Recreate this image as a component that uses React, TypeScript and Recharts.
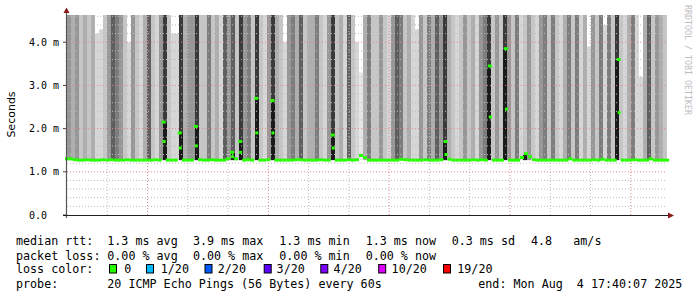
import React from 'react';
import { ComposedChart, Bar, Line, XAxis, YAxis, ReferenceLine, Cell } from 'recharts';

// ---- data (one column = 2.4 minutes, 11:40 -> 17:40) ----
const shade = [
  5,4,5,3,4,3,4,2,2,3,5,7,6,5,3,2,5,3,2,4,7,3,2,5,8,3,2,2,8,4,
  5,5,8,3,3,6,3,4,2,7,5,7,3,8,5,6,3,8,3,2,5,8,4,3,2,5,6,4,7,3,4,
  4,6,3,2,5,8,3,4,2,7,3,2,1,4,6,3,3,5,3,2,5,7,6,3,4,2,2,5,3,6,
  4,7,5,8,4,3,2,3,5,3,4,2,5,6,8,3,5,3,8,5,3,6,2,3,5,3,2,5,6,3,6,
  3,2,4,6,3,6,2,4,2,5,3,6,2,6,3,8,3,2,4,6,2,2,4,7,3,5,4,3,
];

const median = [
  1.3,1.3,1.28,1.27,1.27,1.28,1.27,1.27,1.27,1.28,1.27,1.28,1.27,1.27,1.27,1.28,1.27,1.27,1.27,1.27,1.27,1.27,1.28,1.27,2.15,1.27,1.27,1.27,1.9,1.27,
  1.27,1.27,2.05,1.28,1.27,1.27,1.28,1.27,1.27,1.27,1.3,1.45,1.3,1.7,1.27,1.28,1.27,2.7,1.27,1.27,1.28,2.65,1.27,1.27,1.27,1.27,1.27,1.28,1.28,1.27,1.27,
  1.27,1.27,1.28,1.27,1.27,1.85,1.27,1.27,1.27,1.28,1.27,1.28,1.38,1.33,1.27,1.27,1.27,1.27,1.27,1.27,1.27,1.27,1.29,1.28,1.27,1.27,1.27,1.27,1.28,1.27,
  1.27,1.27,1.28,1.7,1.29,1.27,1.27,1.27,1.27,1.27,1.28,1.27,1.28,1.27,3.45,1.27,1.27,1.27,3.85,1.27,1.27,1.27,1.33,1.42,1.35,1.28,1.27,1.27,1.27,1.27,1.27,
  1.27,1.27,1.27,1.3,1.27,1.27,1.27,1.27,1.27,1.28,1.27,1.29,1.27,1.27,1.27,3.6,1.27,1.27,1.27,1.28,1.27,1.27,1.27,1.3,1.27,1.27,1.27,1.27,
];

// second median dot inside spike columns
const secondDotCols = [24, 28, 32, 41, 43, 47, 51, 66, 94, 105, 109, 137];
const secondDotVals = [1.7, 1.55, 1.6, 1.35, 1.45, 1.9, 1.9, 1.55, 1.4, 2.27, 2.45, 2.37];

// smoke reaches past the top of the graph except in these columns
const smokeClipped = 4.63;
const smokeTopCols = [7, 8, 15, 26, 27, 54, 72, 73, 87, 130, 134, 143];
const smokeTopVals = [4.2, 4.3, 4.0, 4.2, 4.2, 4.0, 4.0, 3.3, 4.3, 3.9, 4.4, 3.2];

const timeTickMinutes = [20, 80, 140, 200, 260, 320];
const timeTickLabels = ['12:00', '13:00', '14:00', '15:00', '16:00', '17:00'];
const yTickValues = [0, 1, 2, 3, 4];
const yTickLabels = ['0.0', '1.0 m', '2.0 m', '3.0 m', '4.0 m'];

const vMinor = [10,30,40,60,70,90,100,120,130,150,160,180,190,210,220,240,250,270,280,300,310,330,340,360];
const vMajor = [20,50,80,110,140,170,200,230,260,290,320,350];
const hMinor = [0.2,0.4,0.6,0.8,1.2,1.4,1.6,1.8,2.2,2.4,2.6,2.8,3.2,3.4,3.6,3.8,4.2,4.4,4.6];
const hMajor = [1, 2, 3, 4];

const lossLegend = ['0', '1/20', '2/20', '3/20', '4/20', '10/20', '19/20'];
const lossColors = ['#26ff00', '#00b8ff', '#0059ff', '#5e00ff', '#7e00ff', '#dd00ff', '#ff0000'];

const shadeColors = ['#ffffff','#e6e6e6','#d6d6d6','#c6c6c6','#aeaeae','#979797','#7d7d7d','#5f5f5f','#3a3a3a','#1e1e1e'];

const rows = shade.map((s, i) => {
  const base = Math.min(median[i], 1.27);
  const core = median[i] > 1.4 ? median[i] - base : 0;
  const k = smokeTopCols.indexOf(i);
  const top = k >= 0 ? smokeTopVals[k] : smokeClipped;
  const j = secondDotCols.indexOf(i);
  return {
    col: i,
    base,
    core,
    smoke: Math.max(0, top - base - core),
    shade: s,
    median: median[i],
    second: j >= 0 ? secondDotVals[j] : null,
  };
});

const mono = "'DejaVu Sans Mono', monospace";

const MedianDot = (props: any) => {
  const { cx, cy } = props;
  if (!Number.isFinite(cx) || !Number.isFinite(cy)) return <g />;
  return <rect x={cx - 2} y={cy - 1.5} width={4} height={3} fill="#26ff00" />;
};
const SecondDot = (props: any) => {
  const { cx, cy, payload } = props;
  if (!payload || payload.second == null || !Number.isFinite(cy)) return <g />;
  return <rect x={cx - 1} y={cy - 1.5} width={3} height={3} fill="#26ff00" />;
};

const YTick = (props: any) => {
  const { y, payload } = props;
  const idx = yTickValues.indexOf(payload.value);
  return (
    <text x={29} y={y} dominantBaseline="central" fontFamily={mono} fontSize={10} fill="#000">
      {idx >= 0 ? yTickLabels[idx] : ''}
    </text>
  );
};
const XTick = (props: any) => {
  const { x, y, payload } = props;
  const idx = timeTickMinutes.indexOf(payload.value);
  return (
    <text x={x} y={y} textAnchor="middle" dominantBaseline="central" fontFamily={mono} fontSize={10} fill="#000">
      {idx >= 0 ? timeTickLabels[idx] : ''}
    </text>
  );
};

const gridMinor = '#bdbdbd';
const gridMajor = '#e08a8a';

const chartProps = {
  width: 697,
  height: 240,
  data: rows,
  margin: { top: 15, right: 30, bottom: 0, left: 0 },
  barCategoryGap: 0,
  barGap: 0,
};

export default function App() {
  const rttItems = ['1.3 ms avg', '3.9 ms max', '1.3 ms min', '1.3 ms now', '0.3 ms sd'];
  const lossItems = ['0.00 % avg', '0.00 % max', '0.00 % min', '0.00 % now'];
  const itemX = [107.3, 192.9, 279.3, 365.7, 451.7];
  const boxX = [109, 146, 204.5, 263.7, 320.3, 378.2, 443];
  const boxLabelX = [124.3, 160.8, 217.8, 276.6, 333.6, 391.6, 457.3];
  return (
    <div style={{ position: 'absolute', left: 0, top: 0, width: 697, height: 297, background: '#fff' }}>
      {/* smoke layer */}
      <div style={{ position: 'absolute', left: 0, top: 0 }}>
        <ComposedChart {...chartProps}>
          <XAxis xAxisId="cat" dataKey="col" type="category" hide />
          <XAxis
            xAxisId="time"
            type="number"
            domain={[0, 360]}
            allowDataOverflow
            ticks={timeTickMinutes}
            axisLine={false}
            tickLine={false}
            tickSize={6}
            tickMargin={3}
            height={25}
            tick={<XTick />}
          />
          <YAxis
            type="number"
            domain={[0, 4.63]}
            allowDataOverflow
            ticks={yTickValues}
            width={67}
            axisLine={false}
            tickSize={4}
            tickLine={{ stroke: '#404040' }}
            tick={<YTick />}
          />
          <Bar xAxisId="cat" dataKey="base" stackId="s" fill="transparent" isAnimationActive={false} />
          <Bar xAxisId="cat" dataKey="core" stackId="s" fill="#1a1a1a" isAnimationActive={false} />
          <Bar xAxisId="cat" dataKey="smoke" stackId="s" isAnimationActive={false}>
            {rows.map((r, i) => (
              <Cell key={i} fill={shadeColors[r.shade]} />
            ))}
          </Bar>
        </ComposedChart>
      </div>
      {/* grid + median layer, same scales, drawn on top of the smoke */}
      <div style={{ position: 'absolute', left: 0, top: 0 }}>
        <ComposedChart {...chartProps}>
          <XAxis xAxisId="cat" dataKey="col" type="category" hide />
          <XAxis
            xAxisId="time"
            type="number"
            domain={[0, 360]}
            allowDataOverflow
            ticks={timeTickMinutes}
            axisLine={false}
            tickLine={false}
            tick={false}
            height={25}
          />
          <YAxis
            type="number"
            domain={[0, 4.63]}
            allowDataOverflow
            ticks={yTickValues}
            width={67}
            axisLine={false}
            tickLine={false}
            tick={false}
          />
          {hMinor.map((v) => (
            <ReferenceLine key={'hm' + v} xAxisId="time" y={v} stroke={gridMinor} strokeDasharray="1 2" />
          ))}
          {vMinor.map((v) => (
            <ReferenceLine key={'vm' + v} xAxisId="time" x={v} stroke={gridMinor} strokeDasharray="1 2" />
          ))}
          {hMajor.map((v) => (
            <ReferenceLine key={'hM' + v} xAxisId="time" y={v} stroke={gridMajor} strokeDasharray="1 2" />
          ))}
          {vMajor.map((v) => (
            <ReferenceLine key={'vM' + v} xAxisId="time" x={v} stroke={gridMajor} strokeDasharray="1 2" />
          ))}
          <Line
            xAxisId="cat"
            dataKey="median"
            stroke="none"
            isAnimationActive={false}
            dot={<MedianDot />}
            activeDot={false}
          />
          <Line
            xAxisId="cat"
            dataKey="second"
            stroke="none"
            isAnimationActive={false}
            dot={<SecondDot />}
            activeDot={false}
            connectNulls={false}
          />
        </ComposedChart>
      </div>
      <svg
        width={697}
        height={297}
        style={{ position: 'absolute', left: 0, top: 0, pointerEvents: 'none' }}
      >
        <line x1={66.5} y1={11} x2={66.5} y2={218} stroke="#555" strokeWidth={1.2} />
        <line x1={63} y1={215.5} x2={669} y2={215.5} stroke="#202020" strokeWidth={1} />
        <polygon points="63.5,13 69.5,13 66.5,7.5" fill="#8b1a1a" />
        <polygon points="668,212.5 668,218.5 674,215.5" fill="#8b1a1a" />
        <text
          transform="translate(11,114.5) rotate(-90)"
          textAnchor="middle"
          dominantBaseline="central"
          fontFamily="'DejaVu Sans', sans-serif"
          fontSize={11}
          fill="#000"
        >
          Seconds
        </text>
        <text
          transform="translate(687.5,5) rotate(90)"
          dominantBaseline="central"
          fontFamily={mono}
          fontSize={8.3}
          fill="#bdbdbd"
        >
          RRDTOOL / TOBI OETIKER
        </text>
        <g fontFamily={mono} fontSize={11.7} fill="#000">
          <text x={16} y={245}>median rtt:</text>
          {rttItems.map((t, i) => (
            <text key={t} x={itemX[i]} y={245}>{t}</text>
          ))}
          <text x={531} y={245}>4.8</text>
          <text x={573.3} y={245}>am/s</text>
          <text x={16} y={260}>packet loss:</text>
          {lossItems.map((t, i) => (
            <text key={t} x={itemX[i]} y={260}>{t}</text>
          ))}
          <text x={16} y={273.3}>loss color:</text>
          {lossLegend.map((t, i) => (
            <g key={t}>
              <rect x={boxX[i] + 0.5} y={264.5} width={7} height={8.5} fill={lossColors[i]} stroke="#000" strokeWidth={1} />
              <text x={boxLabelX[i]} y={273.3}>{t}</text>
            </g>
          ))}
          <text x={16} y={287.6}>probe:</text>
          <text x={107.3} y={287.6}>20 ICMP Echo Pings (56 Bytes) every 60s</text>
          <text x={478.3} y={287.6} xmlSpace="preserve">end: Mon Aug  4 17:40:07 2025</text>
        </g>
      </svg>
    </div>
  );
}
